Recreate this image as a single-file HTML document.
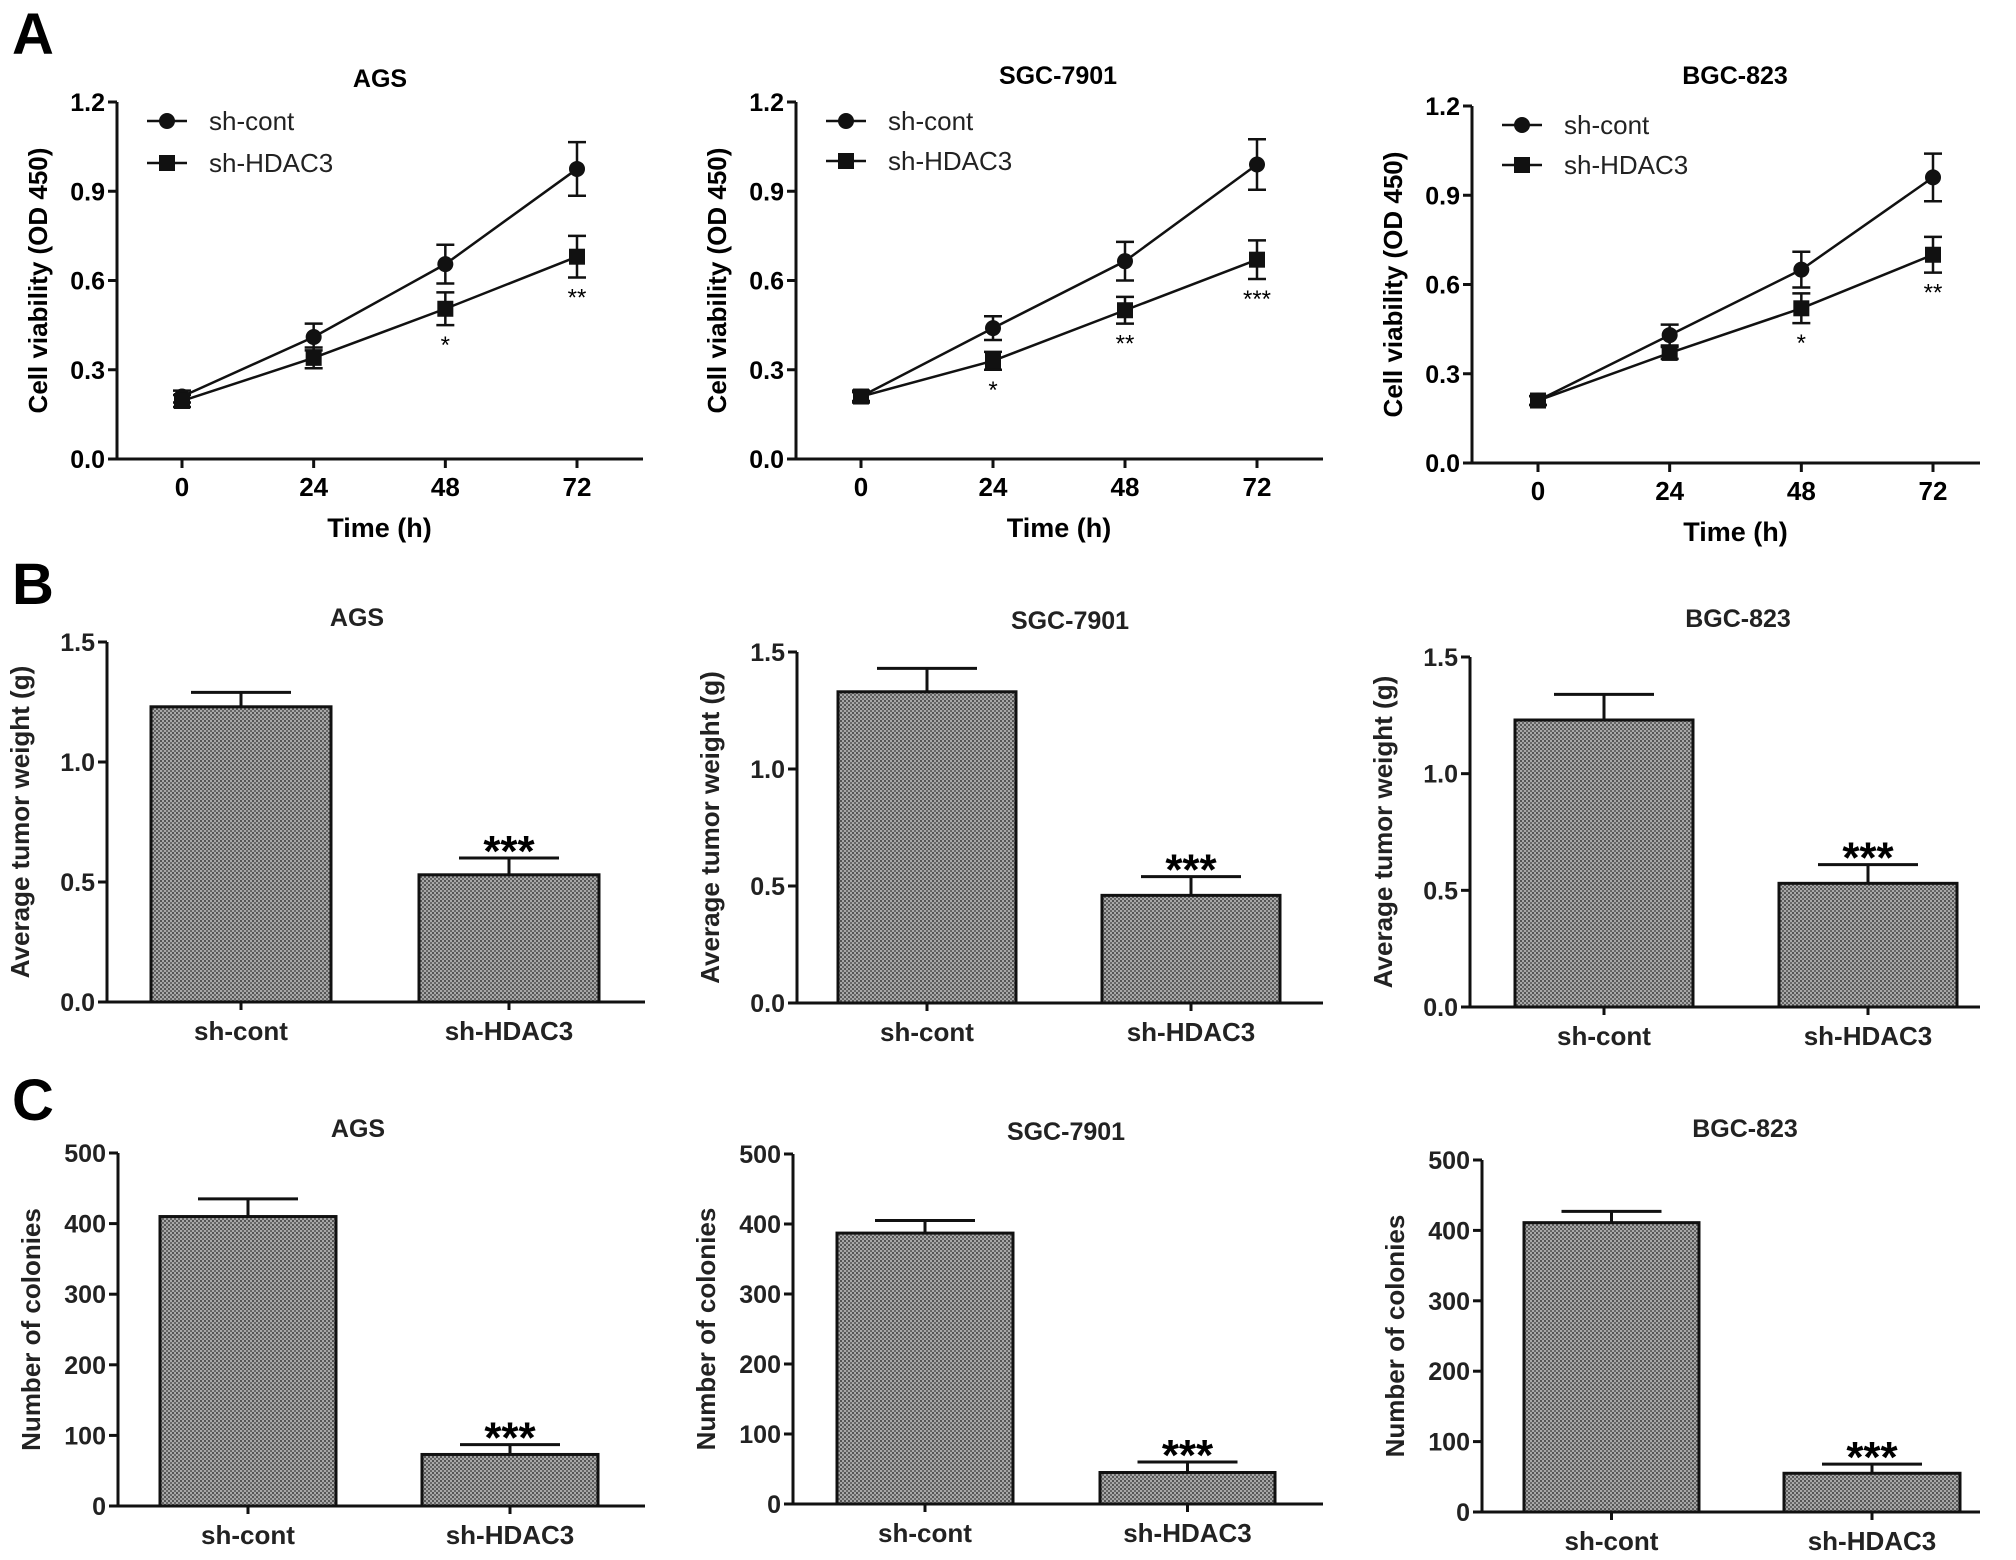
<!DOCTYPE html>
<html><head><meta charset="utf-8"><style>
html,body{margin:0;padding:0;background:#fff}
svg{display:block;font-family:"Liberation Sans",Arial,sans-serif}
</style></head><body>
<svg id="fig" width="2016" height="1560" viewBox="0 0 2016 1560" xmlns="http://www.w3.org/2000/svg">
<defs>
<pattern id="tex" width="4" height="4" patternUnits="userSpaceOnUse">
<rect width="4" height="4" fill="#a8a8a8"/>
<rect width="2" height="2" fill="#555"/>
<rect x="2" y="2" width="2" height="2" fill="#666"/>
</pattern>
</defs>
<text x="12" y="54" font-size="58" font-weight="bold">A</text>
<text x="12" y="604" font-size="58" font-weight="bold">B</text>
<text x="12" y="1120" font-size="58" font-weight="bold">C</text>
</svg>
<script>
const times = [0, 24, 48, 72];
const lineTicks = [0, 0.3, 0.6, 0.9, 1.2];
const lineTickLabels = ["0.0", "0.3", "0.6", "0.9", "1.2"];
const agsCont = [0.21, 0.41, 0.655, 0.975];
const agsContErr = [0.02, 0.045, 0.065, 0.09];
const agsHdac = [0.195, 0.34, 0.505, 0.68];
const agsHdacErr = [0.02, 0.035, 0.055, 0.07];
const agsStars = ["", "", "*", "**"];
const sgcCont = [0.21, 0.44, 0.665, 0.99];
const sgcContErr = [0.02, 0.04, 0.065, 0.085];
const sgcHdac = [0.21, 0.33, 0.50, 0.67];
const sgcHdacErr = [0.015, 0.03, 0.045, 0.065];
const sgcStars = ["", "*", "**", "***"];
const bgcCont = [0.21, 0.43, 0.65, 0.96];
const bgcContErr = [0.015, 0.035, 0.06, 0.08];
const bgcHdac = [0.21, 0.37, 0.52, 0.70];
const bgcHdacErr = [0.015, 0.02, 0.05, 0.06];
const bgcStars = ["", "", "*", "**"];

const groups = ["sh-cont", "sh-HDAC3"];
const weightTicks = [0, 0.5, 1.0, 1.5];
const weightTickLabels = ["0.0", "0.5", "1.0", "1.5"];
const weightAgs = [1.23, 0.53];
const weightAgsErr = [0.06, 0.07];
const weightSgc = [1.33, 0.46];
const weightSgcErr = [0.10, 0.08];
const weightBgc = [1.23, 0.53];
const weightBgcErr = [0.11, 0.08];
const colonyTicks = [0, 100, 200, 300, 400, 500];
const colonyTickLabels = ["0", "100", "200", "300", "400", "500"];
const colonyAgs = [410, 73];
const colonyAgsErr = [25, 14];
const colonySgc = [387, 45];
const colonySgcErr = [18, 15];
const colonyBgc = [411, 55];
const colonyBgcErr = [16, 13];

const svg = document.getElementById('fig');
const NS = 'http://www.w3.org/2000/svg';
function mk(tag, attrs, parent, text) {
  const e = document.createElementNS(NS, tag);
  for (const k in attrs) e.setAttribute(k, attrs[k]);
  if (text !== undefined) e.textContent = text;
  (parent || svg).appendChild(e);
  return e;
}

function lineChart(cfg) {
  const g = mk('g', {});
  
  
  const y = v => cfg.y0 - (v / 1.2) * (cfg.y0 - cfg.y1);
  const x = t => cfg.xs[0] + (t / 72) * (cfg.xs[1] - cfg.xs[0]);
  const ax = mk('path', {d: `M${cfg.ax},${cfg.y1} V${cfg.y0} H${cfg.axEnd}`, stroke: '#111', 'stroke-width': 3, fill: 'none'}, g);
  
  
  lineTicks.forEach((v, i) => {
    mk('line', {x1: cfg.ax - 9, x2: cfg.ax, y1: y(v), y2: y(v), stroke: '#111', 'stroke-width': 3}, g);
    const t = mk('text', {x: cfg.ax - 12, y: y(v) + 9, 'text-anchor': 'end', 'font-size': 25, 'font-weight': 'bold'}, g, lineTickLabels[i]);
    
    
  });
  times.forEach(tv => {
    mk('line', {x1: x(tv), x2: x(tv), y1: cfg.y0, y2: cfg.y0 + 9, stroke: '#111', 'stroke-width': 3}, g);
    const t = mk('text', {x: x(tv), y: cfg.y0 + 37, 'text-anchor': 'middle', 'font-size': 26, 'font-weight': 'bold'}, g, String(tv));
    
    
  });
  const tt = mk('text', {x: cfg.titleX, y: cfg.titleY + 9, 'text-anchor': 'middle', 'font-size': 25, 'font-weight': 'bold'}, g, cfg.title);
  
  
  const xl = mk('text', {x: (cfg.xs[0] + cfg.xs[1]) / 2, y: cfg.y0 + 78, 'text-anchor': 'middle', 'font-size': 27, 'font-weight': 'bold'}, g, 'Time (h)');
  
  
  const yc = (cfg.y0 + cfg.y1) / 2;
  const yl = mk('text', {x: cfg.ax - 70, y: yc, 'text-anchor': 'middle', 'font-size': 26, 'font-weight': 'bold', transform: `rotate(-90 ${cfg.ax - 70} ${yc})`}, g, 'Cell viability (OD 450)');
  
  
  const series = [[cfg.cont, cfg.contErr, 'circle', 'series-sh-cont'], [cfg.hdac, cfg.hdacErr, 'square', 'series-sh-hdac3']];
  series.forEach(([vals, errs, shape, nm]) => {
    const sg = mk('g', {}, g);
    
    
    mk('polyline', {points: vals.map((v, i) => `${x(times[i])},${y(v)}`).join(' '), fill: 'none', stroke: '#111', 'stroke-width': 2.5}, sg);
    vals.forEach((v, i) => {
      const px = x(times[i]);
      mk('path', {d: `M${px},${y(v + errs[i])} V${y(v - errs[i])} M${px - 9},${y(v + errs[i])} H${px + 9} M${px - 9},${y(v - errs[i])} H${px + 9}`, stroke: '#111', 'stroke-width': 2.5, fill: 'none'}, sg);
      let m;
      if (shape === 'circle') m = mk('circle', {cx: px, cy: y(v), r: 8, fill: '#111'}, sg);
      else m = mk('rect', {x: px - 8, y: y(v) - 8, width: 16, height: 16, fill: '#111'}, sg);
      
      
    });
  });
  cfg.stars.forEach((s, i) => {
    if (!s) return;
    const lo = cfg.hdac[i] - cfg.hdacErr[i];
    const st = mk('text', {x: x(times[i]), y: y(lo) + 28, 'text-anchor': 'middle', 'font-size': 24}, g, s);
    
    
  });
  const labels = ['sh-cont', 'sh-HDAC3'];
  labels.forEach((lab, i) => {
    const ly = cfg.legY[i];
    const lg = mk('g', {}, g);
    
    
    mk('line', {x1: cfg.legX - 20, x2: cfg.legX + 20, y1: ly, y2: ly, stroke: '#111', 'stroke-width': 2.5}, lg);
    if (i === 0) mk('circle', {cx: cfg.legX, cy: ly, r: 8, fill: '#111'}, lg);
    else mk('rect', {x: cfg.legX - 8, y: ly - 8, width: 16, height: 16, fill: '#111'}, lg);
    mk('text', {x: cfg.legX + 42, y: ly + 9, 'font-size': 26, fill: '#222'}, lg, lab);
  });
}

function barChart(cfg) {
  const g = mk('g', {});
  
  
  const y = v => cfg.y0 - (v / cfg.max) * (cfg.y0 - cfg.y1);
  const ax = mk('path', {d: `M${cfg.ax},${cfg.y1} V${cfg.y0} H${cfg.axEnd}`, stroke: '#111', 'stroke-width': 3, fill: 'none'}, g);
  
  
  cfg.ticks.forEach((v, i) => {
    mk('line', {x1: cfg.ax - 9, x2: cfg.ax, y1: y(v), y2: y(v), stroke: '#111', 'stroke-width': 3}, g);
    const t = mk('text', {x: cfg.ax - 12, y: y(v) + 9, 'text-anchor': 'end', 'font-size': 25, 'font-weight': 'bold', fill: '#222'}, g, cfg.tickLabels[i]);
    
    
  });
  const tt = mk('text', {x: cfg.titleX, y: cfg.titleY + 9, 'text-anchor': 'middle', 'font-size': 25, 'font-weight': 'bold', fill: '#222'}, g, cfg.title);
  
  
  const yc = (cfg.y0 + cfg.y1) / 2;
  const yl = mk('text', {x: cfg.ax - 78, y: yc, 'text-anchor': 'middle', 'font-size': 26, 'font-weight': 'bold', fill: '#222', transform: `rotate(-90 ${cfg.ax - 78} ${yc})`}, g, cfg.ylabel);
  
  
  groups.forEach((grp, i) => {
    const [bx0, bx1] = cfg.bars[i];
    const cx = (bx0 + bx1) / 2;
    const v = cfg.vals[i], e = cfg.errs[i];
    mk('path', {d: `M${cx},${y(v)} V${y(v + e)} M${cx - 50},${y(v + e)} H${cx + 50}`, stroke: '#111', 'stroke-width': 3, fill: 'none'}, g);
    const b = mk('rect', {x: bx0, y: y(v), width: bx1 - bx0, height: cfg.y0 - y(v), fill: 'url(#tex)', stroke: '#111', 'stroke-width': 3}, g);
    
    
    mk('line', {x1: cx, x2: cx, y1: cfg.y0, y2: cfg.y0 + 8, stroke: '#111', 'stroke-width': 3}, g);
    const xl = mk('text', {x: cx, y: cfg.y0 + 38, 'text-anchor': 'middle', 'font-size': 26, 'font-weight': 'bold', fill: '#222'}, g, grp);
    
    
    if (i === 1) {
      const st = mk('text', {x: cx, y: y(v + e) + 8, 'text-anchor': 'middle', 'font-size': 44, 'font-weight': 'bold'}, g, '***');
      
      
    }
  });
}

lineChart({name: 'chart-a-ags', title: 'AGS', titleX: 380, titleY: 78, ax: 117, axEnd: 643, y0: 459, y1: 102, xs: [182, 577], cont: agsCont, contErr: agsContErr, hdac: agsHdac, hdacErr: agsHdacErr, stars: agsStars, legX: 167, legY: [121, 163]});
lineChart({name: 'chart-a-sgc7901', title: 'SGC-7901', titleX: 1058, titleY: 75, ax: 796, axEnd: 1323, y0: 459, y1: 102, xs: [861, 1257], cont: sgcCont, contErr: sgcContErr, hdac: sgcHdac, hdacErr: sgcHdacErr, stars: sgcStars, legX: 846, legY: [121, 161]});
lineChart({name: 'chart-a-bgc823', title: 'BGC-823', titleX: 1735, titleY: 75, ax: 1472, axEnd: 1980, y0: 463, y1: 106, xs: [1538, 1933], cont: bgcCont, contErr: bgcContErr, hdac: bgcHdac, hdacErr: bgcHdacErr, stars: bgcStars, legX: 1522, legY: [125, 165]});

barChart({name: 'chart-b-ags', title: 'AGS', titleX: 357, titleY: 617, ax: 107, axEnd: 645, y0: 1002, y1: 642, max: 1.5, ticks: weightTicks, tickLabels: weightTickLabels, ylabel: 'Average tumor weight (g)', bars: [[151, 331], [419, 599]], vals: weightAgs, errs: weightAgsErr});
barChart({name: 'chart-b-sgc7901', title: 'SGC-7901', titleX: 1070, titleY: 620, ax: 797, axEnd: 1323, y0: 1003, y1: 652, max: 1.5, ticks: weightTicks, tickLabels: weightTickLabels, ylabel: 'Average tumor weight (g)', bars: [[838, 1016], [1102, 1280]], vals: weightSgc, errs: weightSgcErr});
barChart({name: 'chart-b-bgc823', title: 'BGC-823', titleX: 1738, titleY: 618, ax: 1470, axEnd: 1980, y0: 1007, y1: 657, max: 1.5, ticks: weightTicks, tickLabels: weightTickLabels, ylabel: 'Average tumor weight (g)', bars: [[1515, 1693], [1779, 1957]], vals: weightBgc, errs: weightBgcErr});

barChart({name: 'chart-c-ags', title: 'AGS', titleX: 358, titleY: 1128, ax: 118, axEnd: 645, y0: 1506, y1: 1153, max: 500, ticks: colonyTicks, tickLabels: colonyTickLabels, ylabel: 'Number of colonies', bars: [[160, 336], [422, 598]], vals: colonyAgs, errs: colonyAgsErr});
barChart({name: 'chart-c-sgc7901', title: 'SGC-7901', titleX: 1066, titleY: 1131, ax: 793, axEnd: 1323, y0: 1504, y1: 1154, max: 500, ticks: colonyTicks, tickLabels: colonyTickLabels, ylabel: 'Number of colonies', bars: [[837, 1013], [1100, 1275]], vals: colonySgc, errs: colonySgcErr});
barChart({name: 'chart-c-bgc823', title: 'BGC-823', titleX: 1745, titleY: 1128, ax: 1482, axEnd: 1980, y0: 1512, y1: 1160, max: 500, ticks: colonyTicks, tickLabels: colonyTickLabels, ylabel: 'Number of colonies', bars: [[1524, 1699], [1784, 1960]], vals: colonyBgc, errs: colonyBgcErr});
</script>
</body></html>
